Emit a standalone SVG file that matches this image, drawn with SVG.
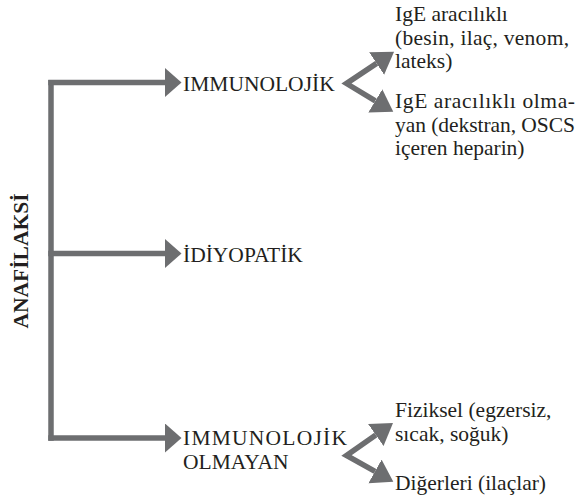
<svg xmlns="http://www.w3.org/2000/svg" width="581" height="501" viewBox="0 0 581 501">
<style>
  text { font-family: 'Liberation Serif', 'Times New Roman', serif; font-size: 21.5px; fill: #231f20; }
  .b { font-weight: bold; }
  .c { fill: none; stroke: #6d6e70; stroke-width: 5.5; stroke-linejoin: miter; stroke-miterlimit: 10; }
</style>
<defs>
  <marker id="arrow" markerUnits="userSpaceOnUse" markerWidth="17" markerHeight="30" refX="0" refY="14.5" orient="auto" viewBox="0 0 17 30">
    <path d="M0,0 L16.5,14.5 L0,29 Z" fill="#6d6e70"/>
  </marker>
  <marker id="arrowD" markerUnits="userSpaceOnUse" markerWidth="22" markerHeight="28" refX="0" refY="13.5" orient="auto-start-reverse" viewBox="0 0 22 28">
    <path d="M0,0 L21,13.5 L0,27 Z" fill="#6d6e70"/>
  </marker>
</defs>

<g id="connectors">
  <path class="c" d="M51,80 L51,440.75"/>
  <path class="c" d="M48.25,82.5 L165,82.5" marker-end="url(#arrow)"/>
  <path class="c" d="M48.25,253.5 L165,253.5" marker-end="url(#arrow)"/>
  <path class="c" d="M48.25,438 L165,438" marker-end="url(#arrow)"/>
  <path class="c" d="M376.6,63.4 L346.5,83.5 L375.3,100.9" marker-start="url(#arrowD)" marker-end="url(#arrowD)"/>
  <path class="c" d="M375.8,435 L346.5,455.5 L375,471.4" marker-start="url(#arrowD)" marker-end="url(#arrowD)"/>
</g>

<g id="anafilaksi">
  <text class="b" transform="translate(28,261) rotate(-90)" text-anchor="middle">ANAFİLAKSİ</text>
</g>

<g id="immunolojik">
  <text x="183" y="90.5">IMMUNOLOJİK</text>
</g>

<g id="idiyopatik">
  <text x="183" y="261.5">İDİYOPATİK</text>
</g>

<g id="immunolojik-olmayan">
  <text x="183" y="445" textLength="164" lengthAdjust="spacing">IMMUNOLOJİK</text>
  <text x="183" y="468.5">OLMAYAN</text>
</g>

<g id="ige">
  <text x="395" y="21">IgE aracılıklı</text>
  <text x="395" y="44.5" textLength="174" lengthAdjust="spacing">(besin, ilaç, venom,</text>
  <text x="395" y="68">lateks)</text>
</g>

<g id="ige-olmayan">
  <text x="395" y="108" textLength="180" lengthAdjust="spacing">IgE aracılıklı olma-</text>
  <text x="395" y="131.5" textLength="180" lengthAdjust="spacing">yan (dekstran, OSCS</text>
  <text x="395" y="155">içeren heparin)</text>
</g>

<g id="fiziksel">
  <text x="395" y="417">Fiziksel (egzersiz,</text>
  <text x="395" y="441">sıcak, soğuk)</text>
</g>

<g id="digerleri">
  <text x="395" y="490">Diğerleri (ilaçlar)</text>
</g>
</svg>
